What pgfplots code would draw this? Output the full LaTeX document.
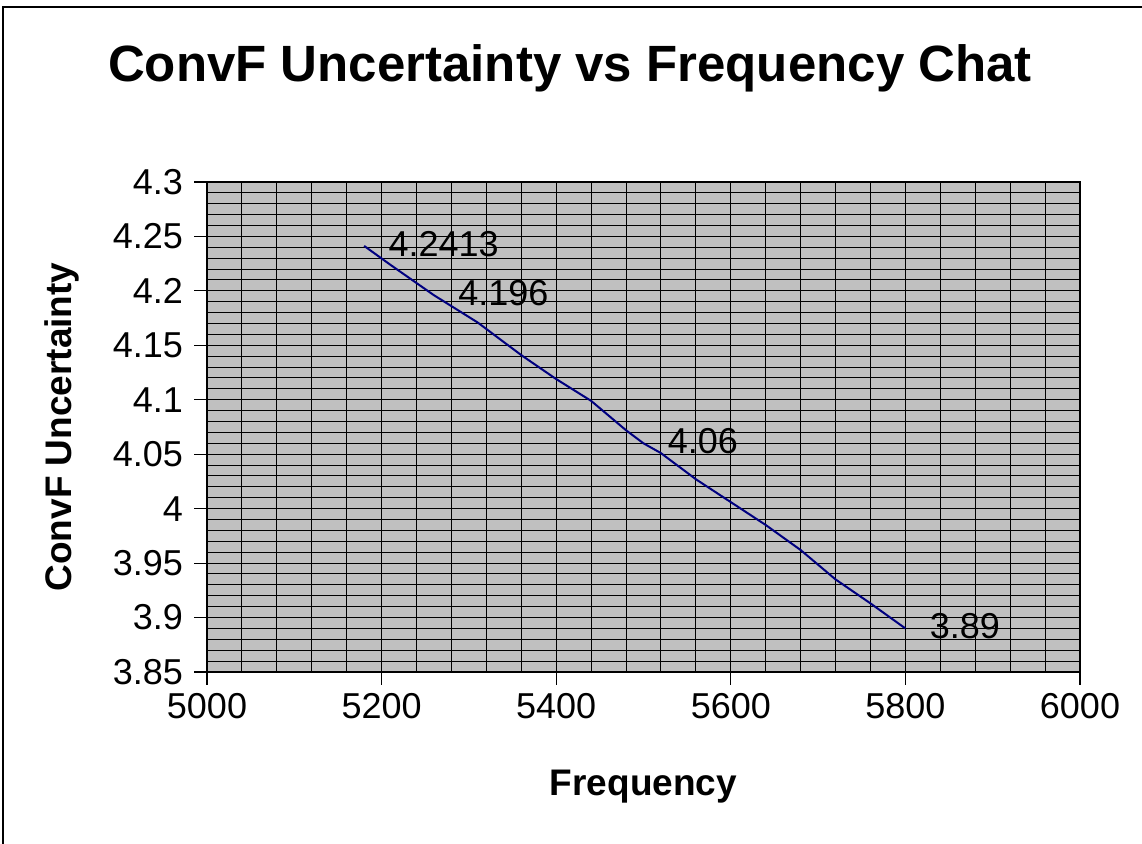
\documentclass[border=0pt]{standalone}
\usepackage{pgfplots}
\pgfplotsset{compat=1.18}
\usepackage{fontspec}
\setmainfont{Liberation Sans}
\begin{document}
\begin{tikzpicture}
\useasboundingbox (0pt,0pt) rectangle (571pt,422pt);
\draw[line width=1.2pt] (1.5pt,0pt) -- (1.5pt,418.5pt) -- (571pt,418.5pt);
\node[font=\fontsize{25.5}{30}\selectfont\bfseries] at (285pt,388pt) {ConvF Uncertainty vs Frequency Chat};
\begin{axis}[
  at={(103.5pt,86pt)}, anchor=south west,
  scale only axis, width=436.5pt, height=245pt,
  xmin=5000, xmax=6000, ymin=3.85, ymax=4.3,
  xtick={5000,5200,...,6000},
  ytick={3.85,3.9,3.95,4,4.05,4.1,4.15,4.2,4.25,4.3},
  yticklabels={3.85,3.9,3.95,4,4.05,4.1,4.15,4.2,4.25,4.3},
  xticklabels={5000,5200,5400,5600,5800,6000},
  minor x tick num=4, minor y tick num=4,
  grid=both,
  major grid style={black, line width=0.5pt},
  minor grid style={black, line width=0.5pt},
  minor tick length=0pt,
  major tick length=6.5pt,
  tick align=outside,
  xtick pos=bottom, ytick pos=left,
  tick style={black, line width=0.6pt},
  axis line style={black, line width=0.6pt},
  axis background/.style={fill={rgb,255:red,192;green,192;blue,192}},
  ticklabel style={font=\fontsize{18}{20}\selectfont},
  xticklabel style={yshift=-0.5pt},
  yticklabel style={xshift=-2pt},
  /pgf/number format/assume math mode=true,
  xlabel={Frequency}, ylabel={ConvF Uncertainty},
  label style={font=\fontsize{18.5}{21}\selectfont\bfseries},
  xlabel style={at={(rel axis cs:0.5,0)}, anchor=center, yshift=-57.5pt},
  ylabel style={at={(rel axis cs:0,0.5)}, anchor=center, rotate=0, yshift=72.5pt},
  clip=false,
]
\addplot[color={rgb,255:red,0;green,0;blue,128}, line width=1pt] table {
x y
5180 4.2413
5210 4.224
5260 4.196
5280 4.186
5310 4.171
5360 4.141
5400 4.119
5440 4.099
5480 4.072
5500 4.060
5520 4.051
5560 4.027
5600 4.006
5640 3.985
5680 3.962
5720 3.935
5760 3.913
5800 3.890
};
\addplot[draw=none, mark=none, nodes near coords, point meta=explicit symbolic,
  nodes near coords style={anchor=west, inner sep=0pt, xshift=12pt, yshift=1pt, font=\fontsize{18}{20}\selectfont, black}]
  table[meta=lab] {
x y lab
5180 4.2413 4.2413
5260 4.196 4.196
5500 4.06 4.06
5800 3.89 3.89
};
\end{axis}
\end{tikzpicture}
\end{document}
